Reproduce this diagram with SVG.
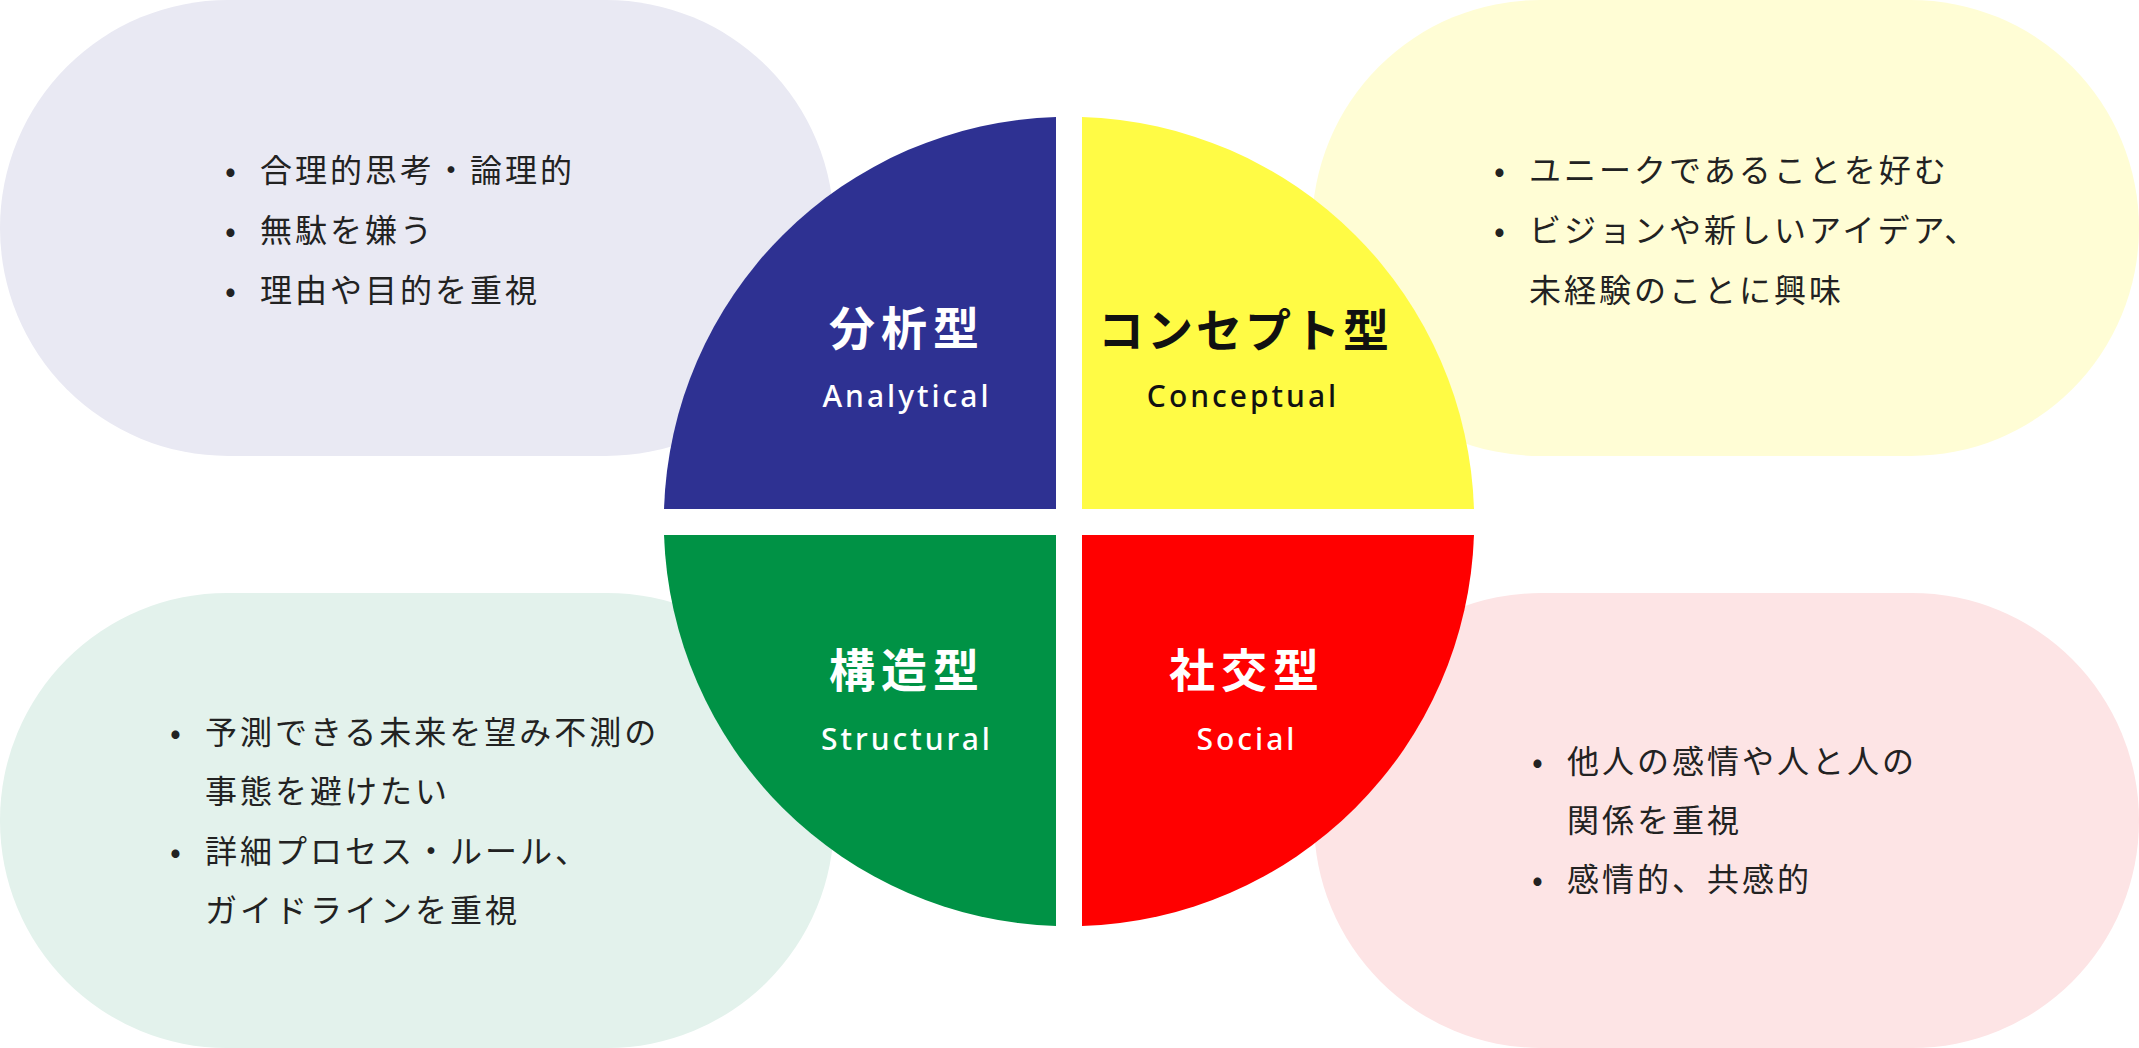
<svg xmlns="http://www.w3.org/2000/svg" width="2139" height="1048" viewBox="0 0 2139 1048">
<style>
.b{font-family:"Noto Sans CJK JP","Noto Sans",sans-serif;font-size:32px;fill:#222;letter-spacing:3px}
.t{font-family:"Noto Sans CJK JP","Noto Sans",sans-serif;font-size:46px;font-weight:bold;text-anchor:middle;letter-spacing:6px}
.e{font-family:"Noto Sans","Noto Sans CJK JP",sans-serif;font-size:30px;font-weight:500;text-anchor:middle;letter-spacing:3px}
</style>
<rect width="2139" height="1048" fill="#fff"/>
<g id="pill-analytical"><rect x="0" y="0" width="834" height="456" rx="228" fill="#e9e9f3"/>
<text class="b" x="225" y="182">•</text><text class="b" x="260" y="182">合理的思考・論理的</text>
<text class="b" x="225" y="242">•</text><text class="b" x="260" y="242">無駄を嫌う</text>
<text class="b" x="225" y="302">•</text><text class="b" x="260" y="302">理由や目的を重視</text></g>
<g id="pill-conceptual"><rect x="1312" y="0" width="827" height="456" rx="228" fill="#fffdd5"/>
<text class="b" x="1494" y="182">•</text><text class="b" x="1529" y="182">ユニークであることを好む</text>
<text class="b" x="1494" y="242">•</text><text class="b" x="1529" y="242">ビジョンや新しいアイデア、</text>
<text class="b" x="1529" y="302">未経験のことに興味</text></g>
<g id="pill-structural"><rect x="0" y="593" width="834" height="455" rx="227" fill="#e3f2ec"/>
<text class="b" x="170" y="744">•</text><text class="b" x="205" y="744">予測できる未来を望み不測の</text>
<text class="b" x="205" y="803">事態を避けたい</text>
<text class="b" x="170" y="863">•</text><text class="b" x="205" y="863">詳細プロセス・ルール、</text>
<text class="b" x="205" y="922">ガイドラインを重視</text></g>
<g id="pill-social"><rect x="1314" y="593" width="825" height="455" rx="227" fill="#fde4e5"/>
<text class="b" x="1532" y="773">•</text><text class="b" x="1567" y="773">他人の感情や人と人の</text>
<text class="b" x="1567" y="832">関係を重視</text>
<text class="b" x="1532" y="891">•</text><text class="b" x="1567" y="891">感情的、共感的</text></g>
<g id="q-analytical"><path d="M1056,117 A405,405 0 0 0 664,509 L1056,509 Z" fill="#2e3192"/>
<text class="t" x="907" y="345" fill="#fff">分析型</text><text class="e" x="907" y="407" fill="#fff">Analytical</text></g>
<g id="q-conceptual"><path d="M1082,117 A405,405 0 0 1 1474,509 L1082,509 Z" fill="#fffb45"/>
<text class="t" x="1245" y="347" fill="#111" style="letter-spacing:3px">コンセプト型</text><text class="e" x="1243" y="407" fill="#111">Conceptual</text></g>
<g id="q-structural"><path d="M1056,926 A405,405 0 0 1 664,535 L1056,535 Z" fill="#009245"/>
<text class="t" x="907" y="687" fill="#fff">構造型</text><text class="e" x="907" y="750" fill="#fff">Structural</text></g>
<g id="q-social"><path d="M1082,926 A405,405 0 0 0 1474,535 L1082,535 Z" fill="#ff0000"/>
<text class="t" x="1247" y="687" fill="#fff">社交型</text><text class="e" x="1247" y="750" fill="#fff">Social</text></g>
<g id="connectors"/>
</svg>
